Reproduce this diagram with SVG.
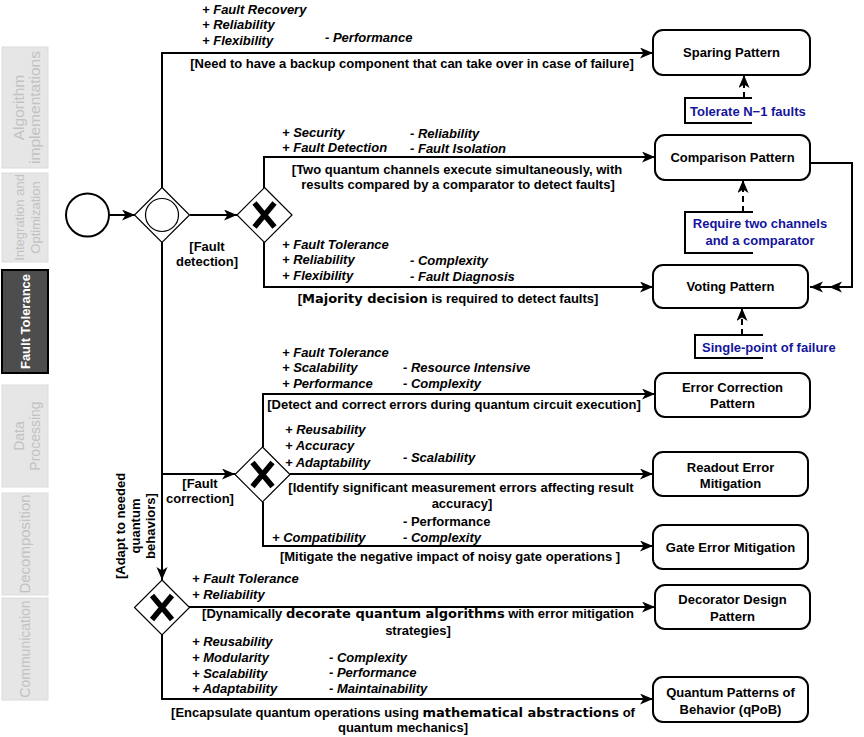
<svg xmlns="http://www.w3.org/2000/svg" width="864" height="737" viewBox="0 0 864 737">
<defs>
<marker id="arr" markerUnits="userSpaceOnUse" markerWidth="14" markerHeight="12" refX="13" refY="5.5" orient="auto">
<path d="M0,0 L13,5.5 L0,11 L3.5,5.5 z" fill="#000"/>
</marker>
</defs>
<style>
text{font-family:"Liberation Sans",Arial,sans-serif;font-size:13px;fill:#000;font-weight:bold}
.pc{font-style:italic}
.up{font-style:normal}
.m{text-anchor:middle}
.em{font-family:"DejaVu Sans",sans-serif;font-weight:bold}
.ann{fill:#14149c}
.tab{fill:#e6e6e6;stroke:#dcdcdc;stroke-width:1}
.tabt{fill:#c2c2c2;text-anchor:middle;font-weight:normal}
.box{fill:#fff;stroke:#000;stroke-width:2}
.gw{fill:#fff;stroke:#000;stroke-width:1.2}
.x{stroke:#000;stroke-width:5.5;fill:none}
.e{fill:none;stroke:#000;stroke-width:2}
.d{fill:none;stroke:#000;stroke-width:2;stroke-dasharray:6,4}
.br{fill:none;stroke:#000;stroke-width:2}
</style>
<rect width="864" height="737" fill="#fff"/>

<g id="sidebar">
<g id="tab-algorithm"><rect class="tab" x="2" y="47" width="46" height="121"/>
<text class="tabt" style="font-size:15.5px" transform="translate(27,107.5) rotate(-90)"><tspan x="0" y="-3">Algorithm</tspan><tspan x="0" y="13">implementations</tspan></text></g>
<g id="tab-integration"><rect class="tab" x="2" y="173" width="46" height="89"/>
<text class="tabt" transform="translate(27,217.5) rotate(-90)"><tspan x="0" y="-3">Integration and</tspan><tspan x="0" y="13">Optimization</tspan></text></g>
<g id="tab-fault"><rect x="2" y="270" width="46" height="103" fill="#4d4d4d" stroke="#000" stroke-width="2"/>
<text class="m" style="fill:#fff" transform="translate(25,321.5) rotate(-90)" y="4.5">Fault Tolerance</text></g>
<g id="tab-data"><rect class="tab" x="2" y="385" width="46" height="102"/>
<text class="tabt" style="font-size:14px" transform="translate(27,436) rotate(-90)"><tspan x="0" y="-3">Data</tspan><tspan x="0" y="13">Processing</tspan></text></g>
<g id="tab-decomposition"><rect class="tab" x="2" y="493" width="46" height="102"/>
<text class="tabt" style="font-size:15px" transform="translate(25,544) rotate(-90)" y="5">Decomposition</text></g>
<g id="tab-communication"><rect class="tab" x="2" y="598" width="46" height="102"/>
<text class="tabt" style="font-size:14px" transform="translate(25,649) rotate(-90)" y="5">Communication</text></g>
</g>

<g id="connectors">
<line class="e" x1="109" y1="215" x2="135" y2="215" marker-end="url(#arr)"/>
<polyline class="e" points="162,188 162,53 653,53" marker-end="url(#arr)"/>
<line class="e" x1="190" y1="215" x2="237" y2="215" marker-end="url(#arr)"/>
<polyline class="e" points="264,188 264,157 655,157" marker-end="url(#arr)"/>
<polyline class="e" points="264,242 264,287 653,287" marker-end="url(#arr)"/>
<polyline class="e" points="810,163 852,163 852,287 810,287" marker-end="url(#arr)"/>
<path d="M842,281.5 L829,287 L842,292.5 L838.5,287 z" fill="#000"/>
<line class="e" x1="162" y1="242" x2="162" y2="580" marker-end="url(#arr)"/>
<line class="e" x1="162" y1="474" x2="235" y2="474" marker-end="url(#arr)"/>
<polyline class="e" points="263,447 263,394 655,394" marker-end="url(#arr)"/>
<line class="e" x1="290" y1="474" x2="653" y2="474" marker-end="url(#arr)"/>
<polyline class="e" points="263,502 263,546 653,546" marker-end="url(#arr)"/>
<line class="e" x1="189" y1="607" x2="655" y2="607" marker-end="url(#arr)"/>
<polyline class="e" points="162,634 162,699 653,699" marker-end="url(#arr)"/>
<line class="d" x1="744" y1="98" x2="744" y2="75" marker-end="url(#arr)"/>
<line class="d" x1="743" y1="212" x2="743" y2="180" marker-end="url(#arr)"/>
<line class="d" x1="742" y1="335" x2="742" y2="308" marker-end="url(#arr)"/>
</g>

<g id="start"><circle cx="87.5" cy="215" r="21.5" fill="#fff" stroke="#000" stroke-width="2"/></g>
<g id="gateway-inclusive"><path class="gw" d="M162,187.5 L189.5,215 L162,242.5 L134.5,215 z"/><circle cx="162" cy="215" r="16.5" fill="none" stroke="#000" stroke-width="1.2"/></g>
<g id="gateway-detection"><path class="gw" d="M264.5,187.5 L292,215 L264.5,242.5 L237,215 z"/><path class="x" d="M254.5,203 L274.5,227 M274.5,203 L254.5,227"/></g>
<g id="gateway-correction"><path class="gw" d="M262.5,447 L290,474.5 L262.5,502 L235,474.5 z"/><path class="x" d="M252.5,462.5 L272.5,486.5 M272.5,462.5 L252.5,486.5"/></g>
<g id="gateway-adapt"><path class="gw" d="M162,580 L189.5,607.5 L162,635 L134.5,607.5 z"/><path class="x" d="M152,595.5 L172,619.5 M172,595.5 L152,619.5"/></g>

<g id="sparing"><rect class="box" x="653" y="30" width="157" height="45" rx="10"/><text class="m" x="731.5" y="57">Sparing Pattern</text></g>
<g id="comparison"><rect class="box" x="655" y="135" width="155" height="45" rx="10"/><text class="m" x="732.5" y="162">Comparison Pattern</text></g>
<g id="voting"><rect class="box" x="653" y="265" width="155" height="43" rx="10"/><text class="m" x="730.5" y="291">Voting Pattern</text></g>
<g id="error-correction"><rect class="box" x="655" y="373" width="155" height="44" rx="10"/><text class="m" x="732.5" y="391.5">Error Correction</text><text class="m" x="732.5" y="407.5">Pattern</text></g>
<g id="readout"><rect class="box" x="653" y="452" width="155" height="44" rx="10"/><text class="m" x="730.5" y="471.5">Readout Error</text><text class="m" x="730.5" y="487.5">Mitigation</text></g>
<g id="gate-error"><rect class="box" x="653" y="525" width="155" height="44" rx="10"/><text class="m" x="730.5" y="551.5">Gate Error Mitigation</text></g>
<g id="decorator"><rect class="box" x="655" y="585" width="155" height="44" rx="10"/><text class="m" x="732.5" y="603.5">Decorator Design</text><text class="m" x="732.5" y="620.5">Pattern</text></g>
<g id="qpob"><rect class="box" x="653" y="677" width="155" height="45" rx="10"/><text class="m" x="730.5" y="696.5">Quantum Patterns of</text><text class="m" x="730.5" y="713.5">Behavior (qPoB)</text></g>

<g id="ann-sparing"><polyline class="br" points="752,98 685,98 685,123 752,123"/><text class="ann" x="690" y="115.5">Tolerate N−1 faults</text></g>
<g id="ann-comparison"><polyline class="br" points="753,212 685,212 685,253 753,253"/><text class="ann m" x="760" y="227.5">Require two channels</text><text class="ann m" x="760" y="244.5">and a comparator</text></g>
<g id="ann-voting"><polyline class="br" points="763,335 695,335 695,358 763,358"/><text class="ann" x="702" y="351.5">Single-point of failure</text></g>

<g id="labels">
<text class="pc" x="202" y="14">+ Fault Recovery</text>
<text class="pc" x="202" y="29">+ Reliability</text>
<text class="pc" x="202" y="44.5">+ Flexibility</text>
<text class="pc" x="325" y="42">- Performance</text>
<text class="m" x="412" y="67.5">[Need to have a backup component that can take over in case of failure]</text>

<text class="pc" x="282" y="136.5">+ Security</text>
<text class="pc" x="282" y="152">+ Fault Detection</text>
<text class="pc" x="410" y="137.5">- Reliability</text>
<text class="pc" x="410" y="153">- Fault Isolation</text>
<text class="m" x="457" y="173.5">[Two quantum channels execute simultaneously, with</text>
<text class="m" x="458" y="189">results compared by a comparator to detect faults]</text>

<text class="m" x="207" y="250.5">[Fault</text>
<text class="m" x="207" y="265.5">detection]</text>

<text class="pc" x="282" y="248.5">+ Fault Tolerance</text>
<text class="pc" x="282" y="264">+ Reliability</text>
<text class="pc" x="282" y="279.5">+ Flexibility</text>
<text class="pc" x="410" y="264.5">- Complexity</text>
<text class="pc" x="410" y="280.5">- Fault Diagnosis</text>
<text class="m" x="448" y="302.5">[<tspan class="em">Majority decision</tspan> is required to detect faults]</text>

<text class="pc" x="282" y="356.5">+ Fault Tolerance</text>
<text class="pc" x="282" y="371.5">+ Scalability</text>
<text class="pc" x="282" y="387.5">+ Performance</text>
<text class="pc" x="403" y="371.5">- Resource Intensive</text>
<text class="pc" x="403" y="387.5">- Complexity</text>
<text class="m" x="454" y="408.5">[Detect and correct errors during quantum circuit execution]</text>

<text class="pc" x="285" y="433.5">+ Reusability</text>
<text class="pc" x="285" y="450">+ Accuracy</text>
<text class="pc" x="285" y="466.5">+ Adaptability</text>
<text class="pc" x="403" y="461.5">- Scalability</text>
<text class="m" x="461" y="491.5">[Identify significant measurement errors affecting result</text>
<text class="m" x="462" y="507.5">accuracy]</text>

<text class="m" x="200" y="487.5">[Fault</text>
<text class="m" x="200" y="502.5">correction]</text>

<text x="403" y="525.5">- Performance</text>
<text class="pc" x="272" y="541.5">+ Compatibility</text>
<text class="pc" x="403" y="541.5">- Complexity</text>
<text class="m" x="450" y="560.5">[Mitigate the negative impact of noisy gate operations ]</text>

<text class="m" transform="translate(136,526) rotate(-90)"><tspan x="0" y="-11">[Adapt to needed</tspan><tspan x="0" y="4">quantum</tspan><tspan x="0" y="19">behaviors]</tspan></text>

<text class="pc" x="192" y="582.5">+ Fault Tolerance</text>
<text class="pc" x="192" y="598.5">+ Reliability</text>
<text class="m" x="418" y="617.5">[Dynamically <tspan class="em">decorate quantum algorithms</tspan> with error mitigation</text>
<text class="m" x="418" y="634.5">strategies]</text>

<text class="pc" x="192" y="645.5">+ Reusability</text>
<text class="pc" x="192" y="661.5">+ Modularity</text>
<text class="pc" x="192" y="677.5">+ Scalability</text>
<text class="pc" x="192" y="692.5">+ Adaptability</text>
<text class="pc" x="329" y="661.5">- Complexity</text>
<text class="pc" x="329" y="676.5">- Performance</text>
<text class="pc" x="329" y="692.5">- Maintainability</text>
<text class="m" x="403" y="716.5">[Encapsulate quantum operations using <tspan class="em">mathematical abstractions</tspan> of</text>
<text class="m" x="403" y="731.5">quantum mechanics]</text>
</g>
</svg>
